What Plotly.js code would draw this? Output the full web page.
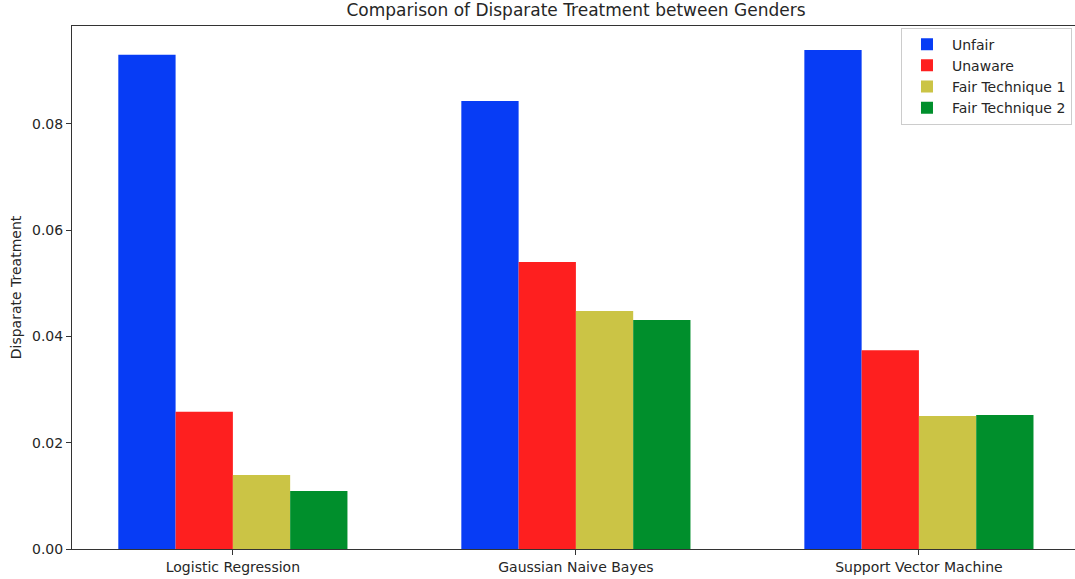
<!DOCTYPE html>
<html>
<head>
<meta charset="utf-8">
<script src="https://cdn.plot.ly/plotly-3.0.1.min.js"></script>
<style>html,body{margin:0;padding:0;background:#fff;}#chart{width:1075px;height:579px;}</style>
</head>
<body>
<div id="chart"></div>
<script>
const categories = ["Logistic Regression", "Gaussian Naive Bayes", "Support Vector Machine"];
const seriesNames = ["Unfair", "Unaware", "Fair Technique 1", "Fair Technique 2"];
const unfair = [0.0930, 0.0843, 0.0939];
const unaware = [0.0258, 0.0540, 0.0374];
const fair1 = [0.0139, 0.0448, 0.0250];
const fair2 = [0.0109, 0.0431, 0.0252];
const yTicks = [0, 0.02, 0.04, 0.06, 0.08];
const colors = ["#073cf5", "#fe1f1f", "#cbc445", "#008f2c"];

const values = [unfair, unaware, fair1, fair2];
const traces = values.map((v, i) => ({
  type: "bar",
  name: seriesNames[i],
  x: categories,
  y: v,
  marker: {color: colors[i], line: {width: 0}},
  hoverinfo: "x+y+name"
}));

const font = {family: "DejaVu Sans, sans-serif", size: 14, color: "#262626"};
const layout = {
  width: 1075, height: 579,
  margin: {l: 72, r: 0, t: 26, b: 30, pad: 0},
  paper_bgcolor: "#fff", plot_bgcolor: "#fff",
  font: font,
  barmode: "group",
  bargap: 0.332,
  bargroupgap: 0,
  title: {text: "Comparison of Disparate Treatment between Genders", x: 0.5025, xref: "paper", xanchor: "center", y: 0.982, yanchor: "middle", font: {family: "DejaVu Sans, sans-serif", size: 17, color: "#262626"}},
  xaxis: {
    type: "category",
    range: [-0.469, 2.455],
    showline: true, linecolor: "#333", linewidth: 1, mirror: true,
    ticks: "outside", ticklen: 5, tickcolor: "#333",
    showgrid: false, zeroline: false,
    tickfont: font
  },
  yaxis: {
    range: [0, 0.0984],
    tickvals: yTicks,
    tickformat: ".2f",
    showline: true, linecolor: "#333", linewidth: 1,
    ticks: "outside", ticklen: 5, tickcolor: "#333",
    showgrid: false, zeroline: false,
    tickfont: font,
    title: {text: "Disparate Treatment", font: font, standoff: 7}
  },
  legend: {
    x: 0.997, xanchor: "right", y: 0.997, yanchor: "top",
    bordercolor: "#cccccc", borderwidth: 1, bgcolor: "rgba(255,255,255,0.9)",
    font: font, tracegroupgap: 0, itemwidth: 40
  },
  showlegend: true
};

Plotly.newPlot("chart", traces, layout, {displayModeBar: false, staticPlot: true});
</script>
</body>
</html>
